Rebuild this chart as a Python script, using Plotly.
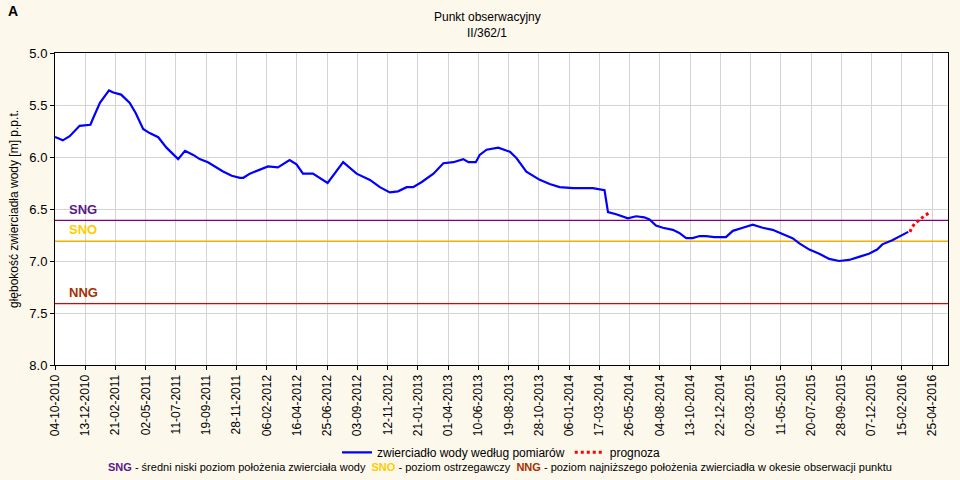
import plotly.graph_objects as go

# ---- data ----
measure_dates = [
    "2010-10-04", "2010-10-06", "2010-10-22", "2010-11-07", "2010-11-30", "2010-12-25", "2010-12-31",
    "2011-01-16", "2011-02-06", "2011-02-16", "2011-03-06", "2011-03-26", "2011-04-09",
    "2011-04-26", "2011-05-11", "2011-05-31", "2011-06-19", "2011-07-16", "2011-08-01",
    "2011-08-20", "2011-09-04", "2011-09-23", "2011-10-28", "2011-11-17", "2011-12-06",
    "2011-12-14", "2011-12-29", "2012-01-21", "2012-02-09", "2012-03-03", "2012-03-30",
    "2012-04-15", "2012-04-30", "2012-05-23", "2012-06-26", "2012-08-01", "2012-09-01",
    "2012-10-02", "2012-10-25", "2012-11-17", "2012-12-06", "2012-12-26", "2013-01-10",
    "2013-01-30", "2013-02-26", "2013-03-21", "2013-04-13", "2013-05-06", "2013-05-18",
    "2013-06-04", "2013-06-13", "2013-06-29", "2013-07-26", "2013-08-22", "2013-09-06",
    "2013-09-29", "2013-10-30", "2013-11-22", "2013-12-15", "2014-01-15", "2014-02-15",
    "2014-03-02", "2014-03-29", "2014-04-02", "2014-04-06", "2014-04-25", "2014-05-22",
    "2014-06-10", "2014-06-29", "2014-07-11", "2014-07-26", "2014-08-11", "2014-09-03",
    "2014-09-18", "2014-10-04", "2014-10-19", "2014-11-04", "2014-11-19", "2014-12-08",
    "2015-01-04", "2015-01-20", "2015-02-12", "2015-03-07", "2015-03-30", "2015-04-22",
    "2015-05-15", "2015-06-07", "2015-06-23", "2015-07-16", "2015-08-08", "2015-08-31",
    "2015-09-23", "2015-10-16", "2015-11-08", "2015-12-01", "2015-12-20", "2016-01-01",
    "2016-01-24", "2016-02-08", "2016-03-01",
]
measure_depth = [
    5.81, 5.81, 5.84, 5.80, 5.70, 5.69, 5.63,
    5.48, 5.36, 5.38, 5.40, 5.48, 5.58,
    5.73, 5.77, 5.81, 5.91, 6.02, 5.94,
    5.98, 6.02, 6.05, 6.14, 6.18, 6.20,
    6.20, 6.16, 6.12, 6.09, 6.10, 6.03,
    6.07, 6.16, 6.16, 6.25, 6.05, 6.16,
    6.22, 6.29, 6.34, 6.33, 6.29, 6.29,
    6.24, 6.16, 6.06, 6.05, 6.02, 6.05,
    6.05, 5.98, 5.93, 5.91, 5.95, 6.01,
    6.14, 6.22, 6.26, 6.29, 6.30, 6.30,
    6.30, 6.32, 6.41, 6.53, 6.55, 6.59,
    6.57, 6.58, 6.60, 6.66, 6.68, 6.70,
    6.73, 6.78, 6.78, 6.76, 6.76, 6.77,
    6.77, 6.71, 6.68, 6.65, 6.68, 6.70,
    6.74, 6.78, 6.83, 6.89, 6.93, 6.98,
    7.00, 6.99, 6.96, 6.93, 6.89, 6.84,
    6.80, 6.77, 6.72,
]

forecast_dates = ["2016-03-05", "2016-03-09", "2016-03-18", "2016-03-30", "2016-04-05", "2016-04-22"]
forecast_depth = [6.72, 6.68, 6.63, 6.60, 6.57, 6.53]

SNG_LEVEL = 6.61
SNO_LEVEL = 6.81
NNG_LEVEL = 7.41

tick_dates = [
    "2010-10-04", "2010-12-13", "2011-02-21", "2011-05-02", "2011-07-11", "2011-09-19",
    "2011-11-28", "2012-02-06", "2012-04-16", "2012-06-25", "2012-09-03", "2012-11-12",
    "2013-01-21", "2013-04-01", "2013-06-10", "2013-08-19", "2013-10-28", "2014-01-06",
    "2014-03-17", "2014-05-26", "2014-08-04", "2014-10-13", "2014-12-22", "2015-03-02",
    "2015-05-11", "2015-07-20", "2015-09-28", "2015-12-07", "2016-02-15", "2016-04-25",
]
tick_labels = [
    "04-10-2010", "13-12-2010", "21-02-2011", "02-05-2011", "11-07-2011", "19-09-2011",
    "28-11-2011", "06-02-2012", "16-04-2012", "25-06-2012", "03-09-2012", "12-11-2012",
    "21-01-2013", "01-04-2013", "10-06-2013", "19-08-2013", "28-10-2013", "06-01-2014",
    "17-03-2014", "26-05-2014", "04-08-2014", "13-10-2014", "22-12-2014", "02-03-2015",
    "11-05-2015", "20-07-2015", "28-09-2015", "07-12-2015", "15-02-2016", "25-04-2016",
]
y_ticks = [5.0, 5.5, 6.0, 6.5, 7.0, 7.5, 8.0]

X_START = "2010-10-04"
X_END = "2016-06-01"

FONT = "Liberation Sans, Arial, sans-serif"
BG = "#fdf8ec"

fig = go.Figure()

# reference levels as horizontal lines (traces spanning the x range)
for level, color in [(SNG_LEVEL, "#800080"), (SNO_LEVEL, "#f0b000"), (NNG_LEVEL, "#e00000")]:
    fig.add_trace(go.Scatter(
        x=[X_START, X_END], y=[level, level], mode="lines",
        line=dict(color=color, width=1.3), showlegend=False, hoverinfo="skip",
    ))

fig.add_trace(go.Scatter(
    x=measure_dates, y=measure_depth, mode="lines",
    line=dict(color="#0000ff", width=2.2),
    name="zwierciadło wody według pomiarów",
))
fig.add_trace(go.Scatter(
    x=forecast_dates, y=forecast_depth, mode="lines",
    line=dict(color="#ff0000", width=3, dash="dot"),
    name="prognoza",
))

# level labels
for level, text, color in [
    (SNG_LEVEL, "SNG", "#5a1a8a"),
    (SNO_LEVEL, "SNO", "#ffcc00"),
    (NNG_LEVEL, "NNG", "#a83000"),
]:
    fig.add_annotation(
        x=0.013, xref="paper", y=level - 0.11, yref="y",
        text=f"<b>{text}</b>", showarrow=False, xanchor="left", yanchor="middle",
        font=dict(family=FONT, size=13, color=color),
    )

# panel letter
fig.add_annotation(
    x=-0.055, xref="paper", y=1.134, yref="paper", text="<b>A</b>", showarrow=False,
    xanchor="left", yanchor="middle", font=dict(family=FONT, size=14, color="black"),
)

# title (two lines)
fig.add_annotation(
    x=0.484, xref="paper", y=1.115, yref="paper", text="Punkt obserwacyjny",
    showarrow=False, xanchor="center", yanchor="middle",
    font=dict(family=FONT, size=12, color="black"),
)
fig.add_annotation(
    x=0.484, xref="paper", y=1.063, yref="paper", text="II/362/1",
    showarrow=False, xanchor="center", yanchor="middle",
    font=dict(family=FONT, size=12, color="black"),
)

fig.add_annotation(
    x=0.498, xref="paper", y=-0.328, yref="paper", showarrow=False,
    xanchor="center", yanchor="middle",
    text=("<span style='color:#5a1a8a'><b>SNG</b></span> - średni niski poziom położenia zwierciała wody  "
          "<span style='color:#ffcc00'><b>SNO</b></span> - poziom ostrzegawczy  "
          "<span style='color:#a83000'><b>NNG</b></span> - poziom najniższego położenia zwierciadła w okesie obserwacji punktu"),
    font=dict(family=FONT, size=11, color="black"),
)

fig.update_layout(
    width=960, height=480,
    paper_bgcolor=BG, plot_bgcolor="white",
    margin=dict(l=55, r=12, t=53, b=115),
    font=dict(family=FONT, size=12, color="black"),
    showlegend=True,
    legend=dict(
        orientation="h", x=0.5, xanchor="center", y=-0.28, yanchor="middle",
        bgcolor="rgba(0,0,0,0)", font=dict(family=FONT, size=12), itemwidth=30,
    ),
    xaxis=dict(
        type="date", range=[X_START, X_END],
        tickmode="array", tickvals=tick_dates, ticktext=tick_labels, tickangle=-90,
        showgrid=True, gridcolor="#d4d4d4", gridwidth=1,
        showline=True, linecolor="black", linewidth=1, mirror=True,
        ticks="outside", ticklen=4, tickcolor="black",
        tickfont=dict(family=FONT, size=12), automargin=False, zeroline=False,
    ),
    yaxis=dict(
        range=[8.0, 5.0], tickmode="array", tickvals=y_ticks,
        ticktext=[f"{v:.1f}" for v in y_ticks],
        showgrid=True, gridcolor="#d4d4d4", gridwidth=1,
        showline=True, linecolor="black", linewidth=1, mirror=True,
        ticks="outside", ticklen=4, tickcolor="black",
        tickfont=dict(family=FONT, size=13), automargin=False, zeroline=False,
        title=dict(text="głębokość zwierciadła wody [m] p.p.t.", standoff=8,
                   font=dict(family=FONT, size=12)),
    ),
)

fig.write_html(
    "out.html",
    config={"displayModeBar": False},
    post_script="document.body.style.margin='0';document.body.style.background='" + BG + "';",
)
